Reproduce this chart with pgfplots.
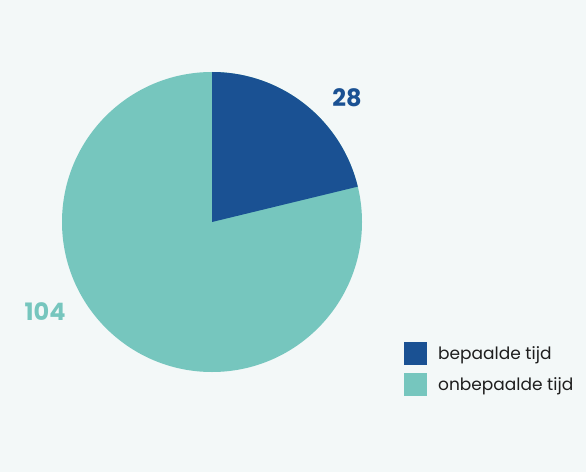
\documentclass[border=0pt]{standalone}
\usepackage{pgfplots}
\usepackage{pgfplotstable}
\pgfplotsset{compat=1.18}
\usepackage{fontspec}
\setmainfont{Poppins}
\definecolor{bgc}{HTML}{F3F8F8}
\definecolor{darkblue}{HTML}{1A5193}
\definecolor{teal}{HTML}{76C6BE}
\definecolor{txt}{HTML}{1E1E1E}

\pgfplotstableread{
label value
bepaalde 28
onbepaalde 104
}\piedata

\begin{document}
\begin{tikzpicture}
\pgfplotstablegetelem{0}{value}\of\piedata \let\va\pgfplotsretval
\pgfplotstablegetelem{1}{value}\of\piedata \let\vb\pgfplotsretval
\pgfmathsetmacro\angA{90-360*\va/(\va+\vb)}
\fill[bgc] (0pt,0pt) rectangle (586pt,472pt);
\useasboundingbox (0pt,0pt) rectangle (586pt,472pt);
\begin{axis}[
  at={(212pt,250pt)}, anchor=center,
  scale only axis, width=300pt, height=300pt,
  xmin=-1, xmax=1, ymin=-1, ymax=1,
  hide axis, clip=false,
  legend style={at={(rel axis cs:1.13,0.108)}, anchor=north west, draw=none, fill=none,
    font=\fontsize{17}{18}\selectfont\color{txt}, row sep=8pt,
    /tikz/every odd column/.append style={column sep=9pt}},
  legend cell align=left,
  legend image code/.code={\fill[#1, draw=none] (0pt,-11pt) rectangle (23pt,12pt);},
]
\addlegendimage{fill=darkblue}
\addlegendentry{bepaalde tijd}
\addlegendimage{fill=teal}
\addlegendentry{onbepaalde tijd}
\fill[teal] (axis cs:0,0) -- (axis cs:0,1) arc[start angle=90, end angle=\angA-360, radius=150pt] -- cycle;
\fill[darkblue] (axis cs:0,0) -- (axis cs:0,1) arc[start angle=90, end angle=\angA, radius=150pt] -- cycle;
\node[font=\fontsize{24}{26}\selectfont\bfseries, text=darkblue] at (axis cs:0.9,0.827) {\va};
\node[font=\fontsize{24}{26}\selectfont\bfseries, text=teal] at (axis cs:-1.113,-0.6) {\vb};
\end{axis}
\end{tikzpicture}
\end{document}
